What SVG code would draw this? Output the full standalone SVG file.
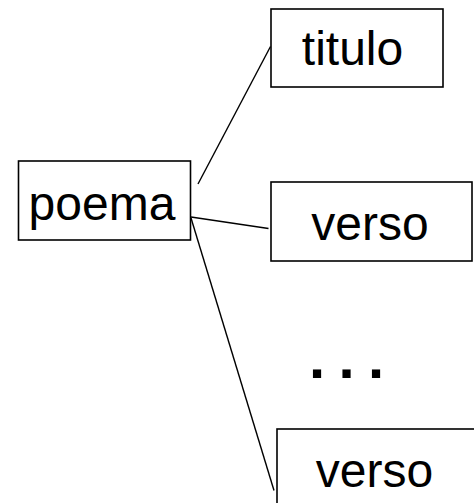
<svg xmlns="http://www.w3.org/2000/svg" width="474" height="503" viewBox="0 0 474 503">
<style>
.box{fill:#fff;stroke:#000;stroke-width:1.6}
.lbl{font-family:"Liberation Sans",Arial,sans-serif;font-size:48px;fill:#000;text-anchor:middle}
.conn line{stroke:#000;stroke-width:1.4}
</style>
<rect width="474" height="503" fill="#fff"/>
<g class="conn" id="connectors">
<line x1="198" y1="184" x2="270.5" y2="46.5"/>
<line x1="191" y1="217" x2="268.5" y2="228.5"/>
<line x1="191" y1="218" x2="274" y2="490.5"/>
</g>
<g id="poema"><rect class="box" x="18.5" y="161" width="172" height="79"/><text class="lbl" x="102" y="220">poema</text></g>
<g id="titulo"><rect class="box" x="271" y="9" width="172" height="78"/><text class="lbl" x="352.5" y="65">titulo</text></g>
<g id="verso1"><rect class="box" x="271" y="182" width="201" height="79"/><text class="lbl" x="370" y="240">verso</text></g>
<g id="ellipsis"><text font-family="Liberation Sans,Arial,sans-serif" font-weight="bold" font-size="58" x="309" y="378" letter-spacing="13.4">...</text></g>
<g id="verso2"><rect class="box" x="277" y="429" width="210" height="90"/><text class="lbl" x="374.5" y="487">verso</text></g>
</svg>
